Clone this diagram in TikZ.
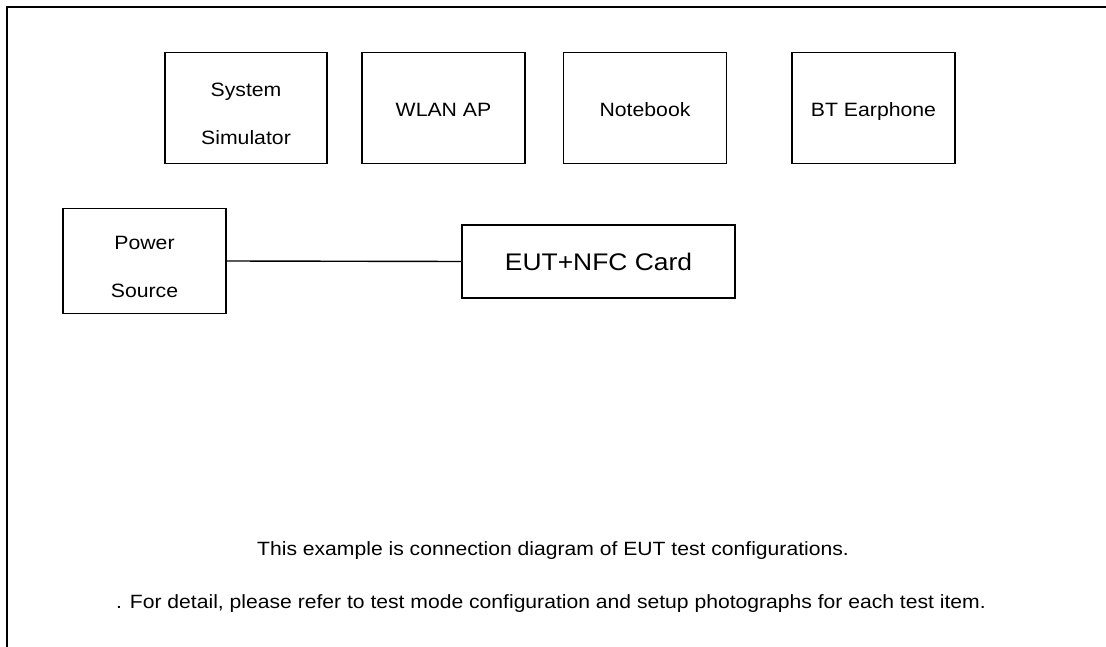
\documentclass[tikz,border=0pt]{standalone}
\usepackage{fontspec}
\setmainfont{Liberation Sans}[FakeStretch=1.1]
\newcommand{\toppad}{\rule{0pt}{25.5pt}}
\begin{document}
\begin{tikzpicture}[x=1pt,y=-1pt,
  box/.style={draw, line width=1.4pt, inner sep=0pt, align=center, font=\fontsize{19.3}{48}\selectfont},
  one/.style={text height=18pt, text depth=0pt},
  two/.style={text depth=-8pt},
  conn/.style={line width=1.4pt},
  frameline/.style={line width=2.6pt},
  note/.style={inner sep=0pt, font=\fontsize{19.2}{22}\selectfont}]
\useasboundingbox (0,0) rectangle (1106,647);
\coordinate (fa) at (7,647);
\coordinate (fb) at (7,7);
\coordinate (fc) at (1106,7);
\draw[frameline] (fa) -- (fb) -- (fc);
\node[box, two, minimum width=162pt, minimum height=111pt] (sim) at (246,108) {\toppad System\\Simulator};
\node[box, one, minimum width=163pt, minimum height=111pt] (wlan) at (443.5,108) {WLAN AP};
\node[box, one, minimum width=163pt, minimum height=111pt] (nb) at (645,108) {Notebook};
\node[box, one, minimum width=163pt, minimum height=111pt] (bt) at (873.5,108) {BT Earphone};
\node[box, two, minimum width=163pt, minimum height=105pt] (ps) at (144.5,261) {\toppad Power\\Source};
\node[box, minimum width=273pt, minimum height=73pt, text height=20pt, text depth=2pt, font=\fontsize{24}{28}\selectfont] (eut) at (598.5,261.5) {EUT+NFC Card};
\draw[conn] (ps.east) -- (eut.west);
\node[note] (n1) at (553,551) {This example is connection diagram of EUT test configurations.};
\node[note] (n2) at (551,604) {. For detail, please refer to test mode configuration and setup photographs for each test item.};
\end{tikzpicture}
\end{document}
